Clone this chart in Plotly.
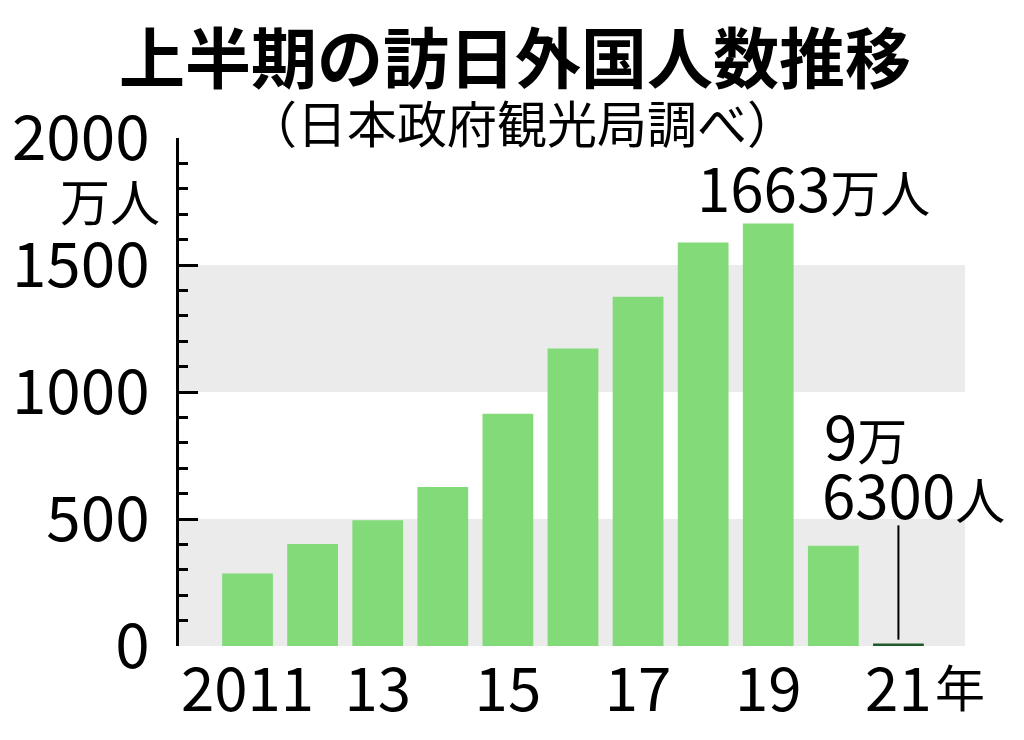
import plotly.graph_objects as go

years = [2011, 2012, 2013, 2014, 2015, 2016, 2017, 2018, 2019, 2020, 2021]
visitors = [285, 402, 495, 626, 914, 1171, 1375, 1589, 1663, 395, 9.63]  # 万人
bar_colors = ["#82da78"] * 10 + ["#1f5a2b"]
x_tickvals = [2011, 2013, 2015, 2017, 2019, 2021]
x_ticktext = ["2011", "13", "15", "17", "19", "21"]
y_tickvals = [0, 500, 1000, 1500, 2000]
y_ticktext = ["0", "500", "1000", "1500", "2000"]
bands = [(0, 500), (1000, 1500)]

FONT = "Noto Sans CJK JP"

fig = go.Figure()
fig.add_trace(go.Bar(x=years, y=visitors, marker=dict(color=bar_colors, line=dict(width=0)),
                     width=0.78, hoverinfo="skip"))

for lo, hi in bands:
    fig.add_shape(type="rect", xref="paper", x0=0, x1=1, yref="y", y0=lo, y1=hi,
                  fillcolor="#ebebeb", line=dict(width=0), layer="below")

# leader line for 2021
fig.add_shape(type="line", xref="x", yref="y", x0=2021, x1=2021, y0=25, y1=475,
              line=dict(color="black", width=2))

fig.update_layout(
    width=1024, height=740,
    margin=dict(l=174, r=59, t=138, b=89),
    plot_bgcolor="white", paper_bgcolor="white",
    showlegend=False,
    font=dict(family=FONT, color="black"),
    xaxis=dict(range=[2009.947, 2022.023], tickvals=x_tickvals, ticktext=x_ticktext,
               showgrid=False, zeroline=False, showline=False, ticks="",
               tickfont=dict(size=60, family=FONT), ticklabelstandoff=4),
    yaxis=dict(range=[0, 2000], tickvals=y_tickvals, ticktext=y_ticktext,
               showgrid=False, zeroline=False, showline=True, linecolor="black", linewidth=3,
               ticks="inside", ticklen=19, tickwidth=3, tickcolor="black",
               minor=dict(dtick=100, ticks="inside", ticklen=9, tickwidth=3, tickcolor="black"),
               tickfont=dict(size=62, family=FONT), ticklabelstandoff=14),
    annotations=[
        dict(text="<b>上半期の訪日外国人数推移</b>", xref="paper", yref="paper",
             x=(512 - 174) / 791, y=1 + (138 - 53) / 512, xanchor="center", yanchor="middle",
             showarrow=False, font=dict(size=66, family=FONT)),
        dict(text="（日本政府観光局調べ）", xref="paper", yref="paper",
             x=(519 - 174) / 791, y=1 + (138 - 121) / 512, xanchor="center", yanchor="middle",
             showarrow=False, font=dict(size=50, family=FONT)),
        dict(text="万人", xref="paper", yref="y", x=(157 - 174) / 791, y=1760,
             xanchor="right", yanchor="middle", showarrow=False, font=dict(size=50, family=FONT)),
        dict(text="1663<span style='font-size:50px'>万人</span>", xref="x", yref="y",
             x=2019, y=1812, xshift=45, xanchor="center", yanchor="middle", showarrow=False,
             font=dict(size=60, family=FONT)),
        dict(text="9<span style='font-size:50px'>万</span>", xref="x", yref="y",
             x=2021, y=836, xshift=-76, xanchor="left", yanchor="middle", showarrow=False,
             font=dict(size=60, family=FONT)),
        dict(text="6300<span style='font-size:50px'>人</span>", xref="x", yref="y",
             x=2021, y=603, xshift=-78, xanchor="left", yanchor="middle", showarrow=False,
             font=dict(size=60, family=FONT)),
        dict(text="年", xref="x", yref="paper", x=2021, y=0, xshift=62, yshift=-39,
             xanchor="center", yanchor="middle", showarrow=False, font=dict(size=50, family=FONT)),
    ],
)

fig.write_html("out.html")
